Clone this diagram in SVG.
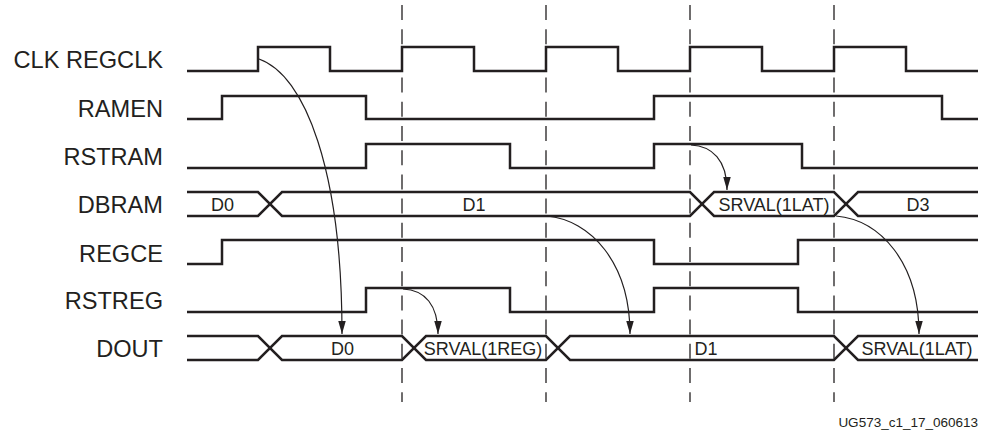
<svg xmlns="http://www.w3.org/2000/svg" width="982" height="433" viewBox="0 0 982 433">
<style>
.sig{fill:none;stroke:#231f20;stroke-width:2.5;stroke-linejoin:miter}
.dash{fill:none;stroke:#231f20;stroke-width:1.3;stroke-dasharray:15,9.2}
.arr{fill:none;stroke:#231f20;stroke-width:1.2}
.lbl{font-family:"Liberation Sans",Arial,sans-serif;font-size:23.6px;fill:#231f20;text-anchor:end}
.bus{font-family:"Liberation Sans",Arial,sans-serif;font-size:18px;fill:#231f20;text-anchor:middle}
.foot{font-family:"Liberation Sans",Arial,sans-serif;font-size:13.5px;fill:#231f20;text-anchor:end}
</style>
<defs>
<marker id="ah" markerUnits="userSpaceOnUse" markerWidth="14" markerHeight="8" refX="13" refY="3.75" orient="auto">
<path d="M0,0 L13,3.75 L0,7.5 Z" fill="#231f20"/>
</marker>
</defs>
<g id="gridlines">
<line class="dash" x1="402" y1="5" x2="402" y2="402"/>
<line class="dash" x1="546" y1="5" x2="546" y2="402"/>
<line class="dash" x1="690" y1="5" x2="690" y2="402"/>
<line class="dash" x1="834" y1="5" x2="834" y2="402"/>
</g>
<g id="clk">
<text class="lbl" x="163" y="68">CLK REGCLK</text>
<path class="sig" d="M187,71 H258 V47 H330 V71 H402 V47 H474 V71 H546 V47 H618 V71 H690 V47 H762 V71 H834 V47 H906 V71 H978"/>
</g>
<g id="ramen">
<text class="lbl" x="163" y="116.5">RAMEN</text>
<path class="sig" d="M187,119 H222 V96 H366 V119 H654 V96 H942 V119 H978"/>
</g>
<g id="rstram">
<text class="lbl" x="163" y="165">RSTRAM</text>
<path class="sig" d="M187,168 H366 V144 H510 V168 H654 V144 H802 V168 H978"/>
</g>
<g id="dbram">
<text class="lbl" x="163" y="213">DBRAM</text>
<path class="sig" d="M187,192 H258 L282,216 H690 L714,192 H834 L858,216 H978"/>
<path class="sig" d="M187,216 H258 L282,192 H690 L714,216 H834 L858,192 H978"/>
<text class="bus" x="222.5" y="211">D0</text>
<text class="bus" x="474" y="211">D1</text>
<text class="bus" x="774" y="211">SRVAL(1LAT)</text>
<text class="bus" x="918" y="211">D3</text>
</g>
<g id="regce">
<text class="lbl" x="163" y="261.5">REGCE</text>
<path class="sig" d="M187,264 H222 V240 H654 V264 H798 V240 H978"/>
</g>
<g id="rstreg">
<text class="lbl" x="163" y="308.5">RSTREG</text>
<path class="sig" d="M187,312 H366 V288 H510 V312 H654 V288 H798 V312 H978"/>
</g>
<g id="dout">
<text class="lbl" x="163" y="357">DOUT</text>
<path class="sig" d="M187,336 H258 L282,360 H402 L426,336 H546 L570,360 H834 L858,336 H978"/>
<path class="sig" d="M187,360 H258 L282,336 H402 L426,360 H546 L570,336 H834 L858,360 H978"/>
<text class="bus" x="342.5" y="355">D0</text>
<text class="bus" x="483" y="355">SRVAL(1REG)</text>
<text class="bus" x="706" y="355">D1</text>
<text class="bus" x="917" y="355">SRVAL(1LAT)</text>
</g>
<g id="connectors">
<path class="arr" marker-end="url(#ah)" d="M259,59 C305,75 342,170 342,334"/>
<path class="arr" marker-end="url(#ah)" d="M403,289 C425,290 438,305 438,334"/>
<path class="arr" marker-end="url(#ah)" d="M691,145 C712,146 727,160 727,190"/>
<path class="arr" marker-end="url(#ah)" d="M547,216 C590,220 630,262 630,334"/>
<path class="arr" marker-end="url(#ah)" d="M836,216 C880,220 919,262 919,334"/>
</g>
<text class="foot" x="978" y="427">UG573_c1_17_060613</text>
</svg>
